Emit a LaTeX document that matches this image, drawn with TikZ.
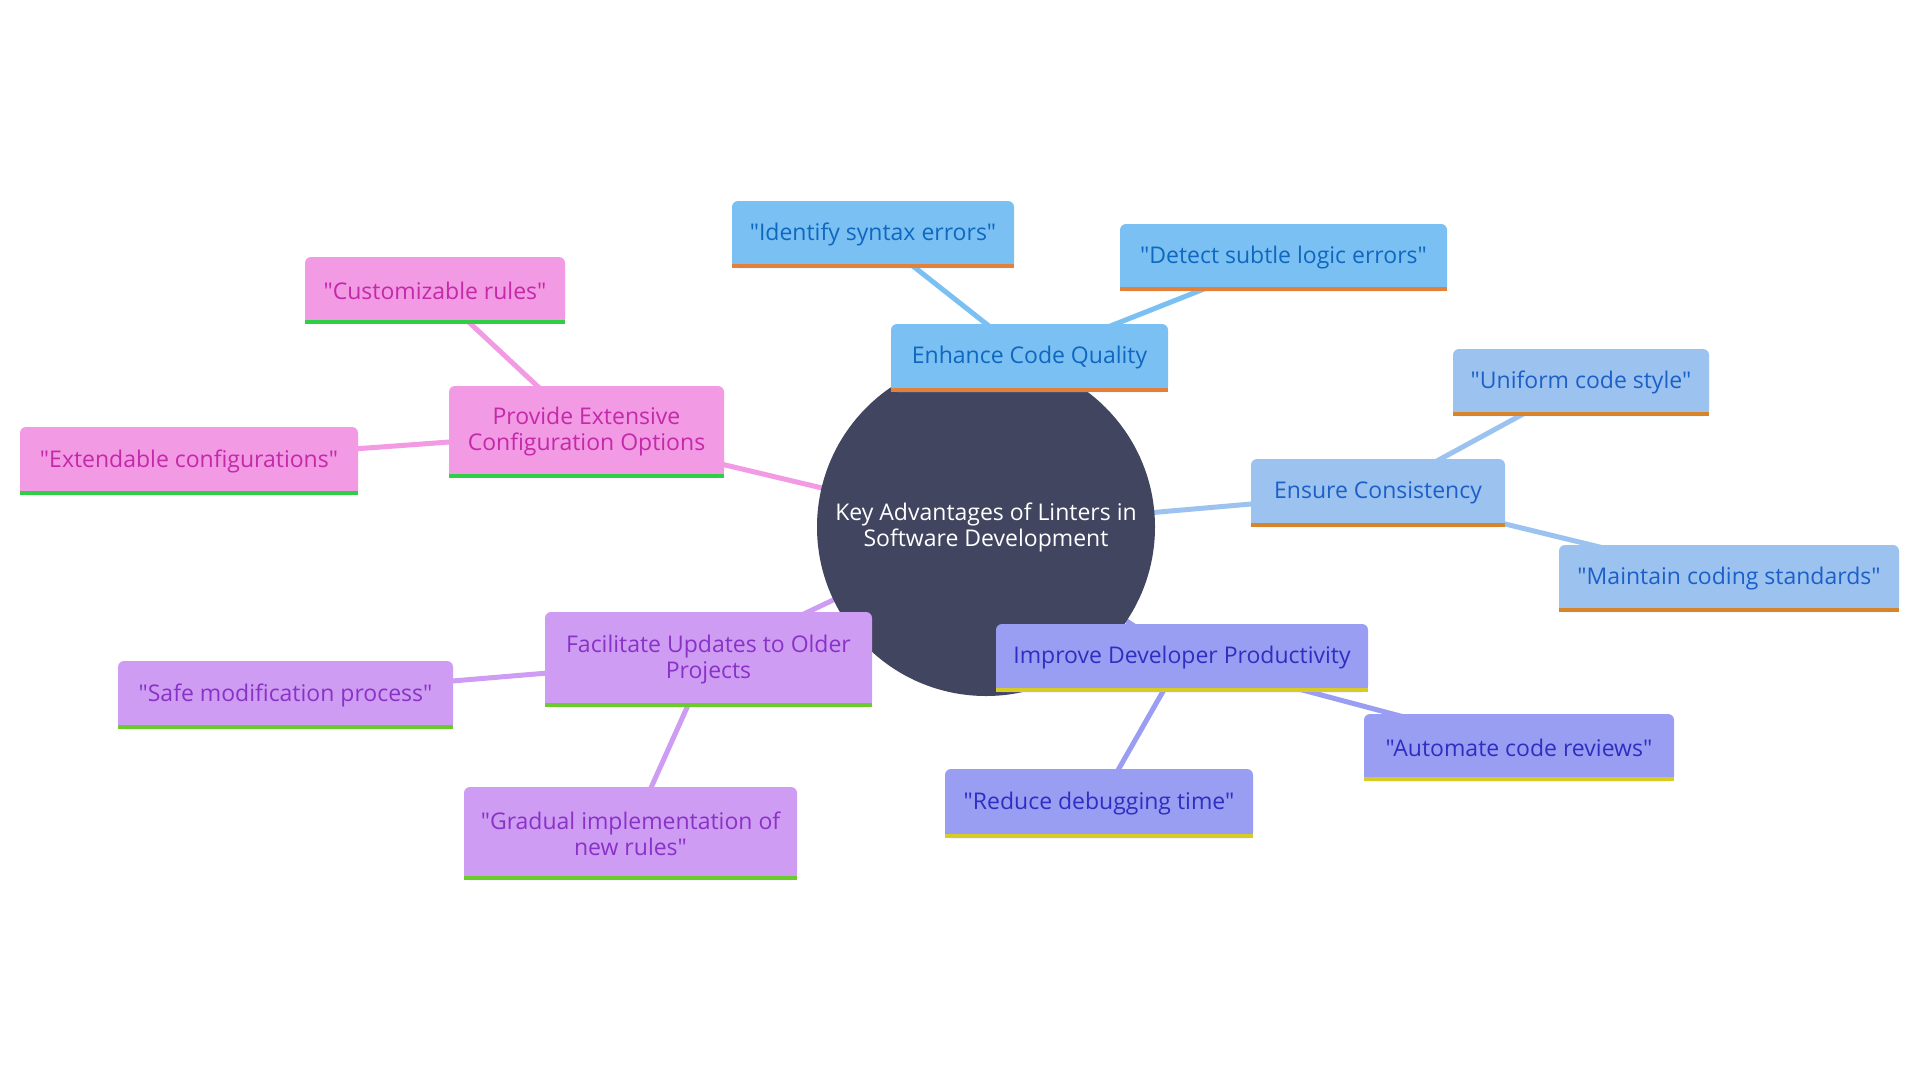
\documentclass[tikz,border=0pt]{standalone}
\usepackage{fontspec}
\setmainfont{Open Sans}[Ligatures=TeXOff]
\definecolor{ctr}{HTML}{414560}
\definecolor{bF}{HTML}{7BC0F2}\definecolor{bT}{HTML}{0F67BF}\definecolor{bL}{HTML}{E3803A}
\definecolor{eF}{HTML}{9CC3EF}\definecolor{eT}{HTML}{1C5FC9}\definecolor{eL}{HTML}{D6852B}
\definecolor{iF}{HTML}{9A9EF2}\definecolor{iT}{HTML}{2E2EC1}\definecolor{iL}{HTML}{D8CB26}
\definecolor{fF}{HTML}{CE9CF2}\definecolor{fT}{HTML}{8A32C8}\definecolor{fL}{HTML}{6CCB2C}
\definecolor{pF}{HTML}{F29AE3}\definecolor{pT}{HTML}{C329A9}\definecolor{pL}{HTML}{2ECF46}
\tikzset{
  box/.style={rectangle, rounded corners=6pt, inner sep=0pt, align=center,
    font=\fontsize{23}{26}\selectfont},
  bbox/.style={box, fill=bF, text=bT},
  ebox/.style={box, fill=eF, text=eT},
  ibox/.style={box, fill=iF, text=iT},
  fbox/.style={box, fill=fF, text=fT},
  pbox/.style={box, fill=pF, text=pT},
  link/.style={line width=5pt},
}
\begin{document}
\begin{tikzpicture}[x=1pt,y=-1pt]
\useasboundingbox[fill=white] (0,0) rectangle (1920,1080);
\coordinate (cC) at (986,527);
\path
 (1029.5,358) coordinate (pEnh)
 (873,234.5) coordinate (pIde)
 (1283.5,257.5) coordinate (pDet)
 (1378,493) coordinate (pEns)
 (1581,382.5) coordinate (pUni)
 (1729,578.5) coordinate (pMai)
 (1182,658) coordinate (pImp)
 (1519,747.5) coordinate (pAut)
 (1099,803.5) coordinate (pRed)
 (708.5,659.5) coordinate (pFac)
 (285.5,695) coordinate (pSaf)
 (630.5,833.5) coordinate (pGra)
 (586.5,432) coordinate (pPro)
 (435,290.5) coordinate (pCus)
 (189,461) coordinate (pExt);
% links
\draw[link,bF] (cC) -- (pEnh);
\draw[link,bF] (pEnh) -- (pIde);
\draw[link,bF] (pEnh) -- (pDet);
\draw[link,eF] (cC) -- (pEns);
\draw[link,eF] (pEns) -- (pUni);
\draw[link,eF] (pEns) -- (pMai);
\draw[link,iF] (cC) -- (pImp);
\draw[link,iF] (pImp) -- (pAut);
\draw[link,iF] (pImp) -- (pRed);
\draw[link,fF] (cC) -- (pFac);
\draw[link,fF] (pFac) -- (pSaf);
\draw[link,fF] (pFac) -- (pGra);
\draw[link,pF] (cC) -- (pPro);
\draw[link,pF] (pPro) -- (pCus);
\draw[link,pF] (pPro) -- (pExt);
% centre
\node[circle, fill=ctr, minimum size=338pt, inner sep=0pt, text=white, align=center,
  font=\fontsize{23}{26}\selectfont] (center) at (cC) {Key Advantages of Linters in\\Software Development};
% boxes
\node[bbox, minimum width=277pt, minimum height=68pt] (enh) at (pEnh) {Enhance Code Quality};
\node[bbox, minimum width=282pt, minimum height=67pt] (ide) at (pIde) {"Identify syntax errors"};
\node[bbox, minimum width=327pt, minimum height=67pt] (det) at (pDet) {"Detect subtle logic errors"};
\node[ebox, minimum width=254pt, minimum height=68pt] (ens) at (pEns) {Ensure Consistency};
\node[ebox, minimum width=256pt, minimum height=67pt] (uni) at (pUni) {"Uniform code style"};
\node[ebox, minimum width=340pt, minimum height=67pt] (mai) at (pMai) {"Maintain coding standards"};
\node[ibox, minimum width=372pt, minimum height=68pt] (imp) at (pImp) {Improve Developer Productivity};
\node[ibox, minimum width=310pt, minimum height=67pt] (aut) at (pAut) {"Automate code reviews"};
\node[ibox, minimum width=308pt, minimum height=69pt] (red) at (pRed) {"Reduce debugging time"};
\node[fbox, minimum width=327pt, minimum height=95pt] (fac) at (pFac) {Facilitate Updates to Older\\Projects};
\node[fbox, minimum width=335pt, minimum height=68pt] (saf) at (pSaf) {"Safe modification process"};
\node[fbox, minimum width=333pt, minimum height=93pt] (gra) at (pGra) {"Gradual implementation of\\new rules"};
\node[pbox, minimum width=275pt, minimum height=92pt] (pro) at (pPro) {Provide Extensive\\Configuration Options};
\node[pbox, minimum width=260pt, minimum height=67pt] (cus) at (pCus) {"Customizable rules"};
\node[pbox, minimum width=338pt, minimum height=68pt] (ext) at (pExt) {"Extendable configurations"};
% square bottoms and underlines
\foreach \n/\f/\l in {enh/bF/bL, ide/bF/bL, det/bF/bL, ens/eF/eL, uni/eF/eL, mai/eF/eL,
  imp/iF/iL, aut/iF/iL, red/iF/iL, fac/fF/fL, saf/fF/fL, gra/fF/fL, pro/pF/pL, cus/pF/pL, ext/pF/pL}{
  \fill[\f] ([yshift=4pt]\n.south west) rectangle ([yshift=10pt]\n.south east);
  \fill[\l] (\n.south west) rectangle ([yshift=4pt]\n.south east);
}
\end{tikzpicture}
\end{document}
